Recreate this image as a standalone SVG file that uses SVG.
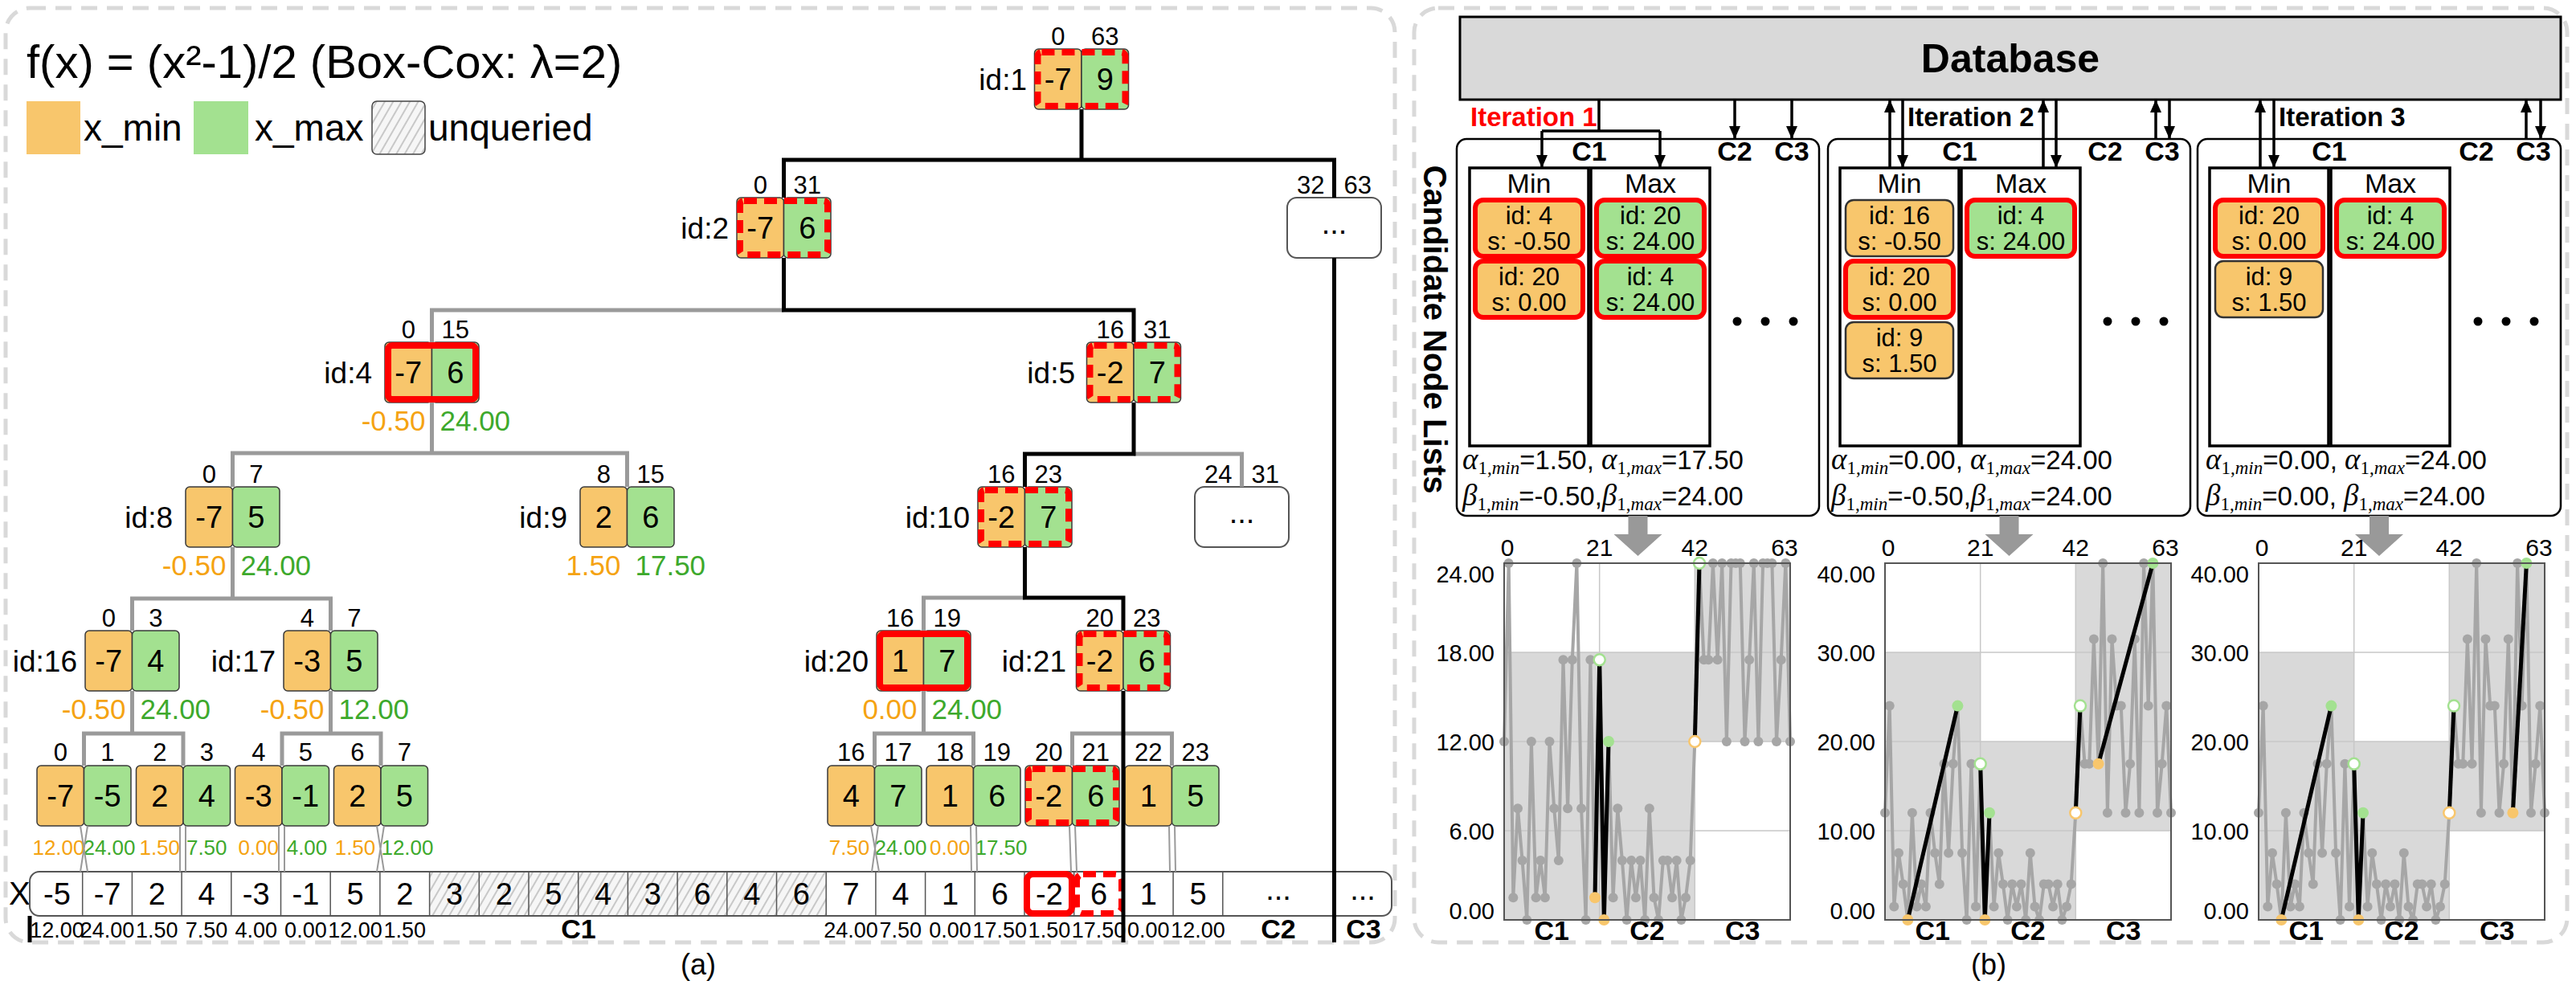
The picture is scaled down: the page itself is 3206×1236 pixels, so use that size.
<svg xmlns="http://www.w3.org/2000/svg" width="3206" height="1236" viewBox="0 0 3206 1236">
<defs>
<style>
text{font-family:"Liberation Sans",Arial,Helvetica,sans-serif;fill:#000}
.panel{fill:none;stroke:#d9d9d9;stroke-width:5;stroke-dasharray:20 12}
.co{fill:#F8C66C;stroke:#3a3a3a;stroke-width:1.5}
.cg{fill:#A3E190;stroke:#3a3a3a;stroke-width:1.5}
.rd{fill:none;stroke:#FF0000;stroke-width:8;stroke-dasharray:16 9}
.rs{fill:none;stroke:#FF0000;stroke-width:8}
.v{font-size:38px;text-anchor:middle}
.r{font-size:31px;text-anchor:middle}
.id{font-size:37px;text-anchor:end}
.so{font-size:35px;text-anchor:end;fill:#F5A312}
.sg{font-size:35px;fill:#3DA92C}
.lo{font-size:26px;text-anchor:middle;fill:#F5A312}
.lg{font-size:26px;text-anchor:middle;fill:#3DA92C}
.bk{stroke:#000;stroke-width:5;fill:none}
.gy{stroke:#9a9a9a;stroke-width:5;fill:none}
.thin{stroke:#9a9a9a;stroke-width:2;fill:none}
.ell{fill:#fff;stroke:#555;stroke-width:2}
.al{font-size:27px;text-anchor:middle}
.cb{font-size:34px;font-weight:bold;text-anchor:middle}
.box{fill:#fff;stroke:#000;stroke-width:2.5}
.col{fill:#fff;stroke:#000;stroke-width:3.5}
.hd{font-size:34px;text-anchor:middle}
.kt{font-size:31px;text-anchor:middle}
.ko{fill:#F8C66C;stroke:#333;stroke-width:2.5}
.kg{fill:#A3E190;stroke:#333;stroke-width:2.5}
.kr{stroke:#FF0000;stroke-width:6}
.it{font-size:33px;font-weight:bold}
.ar{stroke:#000;stroke-width:3.5;fill:none}
.m{font-size:33px}
.gk{font-family:"Liberation Serif","DejaVu Serif",serif;font-style:italic;font-size:37px}
.sb{font-family:"Liberation Serif","DejaVu Serif",serif;font-size:23px}
.sbi{font-family:"Liberation Serif","DejaVu Serif",serif;font-style:italic;font-size:23px}
.grid{stroke:#c8c8c8;stroke-width:1.5;fill:none}
.sh{fill:#d9d9d9}
.frame{fill:none;stroke:#555;stroke-width:2}
.tk{font-size:30px;text-anchor:middle}
.yl{font-size:29px;text-anchor:end}
.hl{stroke:#000;stroke-width:5;fill:none}
.dO{fill:#F8C66C}
.dG{fill:#A3E190}
.wO{fill:#fff;stroke:#F8C66C;stroke-width:2.5}
.wG{fill:#fff;stroke:#A3E190;stroke-width:2.5}
</style>
<pattern id="hatch" patternUnits="userSpaceOnUse" width="9" height="9" patternTransform="rotate(30)"><rect width="9" height="9" fill="#f6f6f6"/><line x1="1" y1="0" x2="1" y2="9" stroke="#b0b0b0" stroke-width="1.3"/></pattern>
<marker id="arr" viewBox="0 0 16 14" refX="16" refY="7" markerWidth="16" markerHeight="14" markerUnits="userSpaceOnUse" orient="auto"><path d="M0,0 L16,7 L0,14 z" fill="#000"/></marker>
<marker id="gd" markerWidth="14" markerHeight="14" refX="7" refY="7" markerUnits="userSpaceOnUse"><circle cx="7" cy="7" r="6" fill="#A6A6A6"/></marker>
<polyline id="s1" fill="none" stroke="#A6A6A6" stroke-width="4" marker-start="url(#gd)" marker-mid="url(#gd)" marker-end="url(#gd)" points="0,923 5.7,701 11.3,1117.3 17,1006.3 22.6,1071 28.3,1145 33.9,923 39.6,1117.3 45.2,1071 50.9,1117.3 56.5,923 62.2,1006.3 67.8,1071 73.5,821.3 79.1,1006.3 84.8,821.3 90.4,701 96.1,1006.3 101.7,1145 107.4,821.3 113,1117.3 118.7,821.3 124.3,1145 130,923 135.6,1117.3 141.3,1006.3 146.9,1071 152.6,1145 158.2,1071 163.9,1117.3 169.5,1071 175.2,1145 180.8,1006.3 186.5,1117.3 192.1,1145 197.8,1071 203.4,1071 209.1,1117.3 214.7,1071 220.4,1145 226,1117.3 231.7,1071 237.3,923 243,701 248.6,821.3 254.3,821.3 259.9,701 265.6,821.3 271.2,701 276.9,923 282.5,701 288.2,701 293.8,701 299.5,923 305.1,821.3 310.8,701 316.4,923 322.1,701 327.7,701 333.4,701 339,923 344.7,821.3 350.3,701 356,923"/>
<polyline id="s23" fill="none" stroke="#A6A6A6" stroke-width="4" marker-start="url(#gd)" marker-mid="url(#gd)" marker-end="url(#gd)" points="0,1011.8 5.7,878.6 11.3,1128.4 17,1061.8 22.6,1100.6 28.3,1145 33.9,1011.8 39.6,1128.4 45.2,1100.6 50.9,1128.4 56.5,1011.8 62.2,1061.8 67.8,1100.6 73.5,950.8 79.1,1061.8 84.8,950.8 90.4,878.6 96.1,1061.8 101.7,1145 107.4,950.8 113,1128.4 118.7,950.8 124.3,1145 130,1011.8 135.6,1128.4 141.3,1061.8 146.9,1100.6 152.6,1145 158.2,1100.6 163.9,1128.4 169.5,1100.6 175.2,1145 180.8,1061.8 186.5,1128.4 192.1,1145 197.8,1100.6 203.4,1100.6 209.1,1128.4 214.7,1100.6 220.4,1145 226,1128.4 231.7,1100.6 237.3,1011.8 243,878.6 248.6,950.8 254.3,950.8 259.9,795.4 265.6,950.8 271.2,701 276.9,1011.8 282.5,795.4 288.2,878.6 293.8,878.6 299.5,1011.8 305.1,950.8 310.8,795.4 316.4,1011.8 322.1,701 327.7,878.6 333.4,701 339,1011.8 344.7,950.8 350.3,878.6 356,1011.8"/>
</defs>
<rect width="3206" height="1236" fill="#fff"/>

<!-- Panel (a) -->
<rect class="panel" x="7" y="10" width="1729" height="1163" rx="30"/>
<text x="869" y="1213" font-size="36" text-anchor="middle">(a)</text>
<text x="33" y="97" font-size="58">f(x) = (x²-1)/2 (Box-Cox: λ=2)</text>
<g id="legend">
<rect x="33" y="126" width="67" height="66" fill="#F8C66C"/>
<text x="104" y="175" font-size="46">x_min</text>
<rect x="241" y="126" width="68" height="66" fill="#A3E190"/>
<text x="317" y="175" font-size="46">x_max</text>
<rect x="463" y="126" width="66" height="66" rx="6" fill="url(#hatch)" stroke="#444" stroke-width="1.5"/>
<text x="533" y="175" font-size="46">unqueried</text>
</g>

<g id="array">
<text x="11" y="1126" font-size="40">X</text>
<rect x="37" y="1085" width="1695" height="55" rx="12" fill="#fff" stroke="#555" stroke-width="2"/>
<rect x="534.6" y="1086" width="493.6" height="53" fill="url(#hatch)"/>
<path d="M102.7,1085V1140M164.4,1085V1140M226.1,1085V1140M287.8,1085V1140M349.5,1085V1140M411.2,1085V1140M472.9,1085V1140M534.6,1085V1140M596.3,1085V1140M658,1085V1140M719.7,1085V1140M781.4,1085V1140M843.1,1085V1140M904.8,1085V1140M966.5,1085V1140M1028.2,1085V1140M1089.9,1085V1140M1151.6,1085V1140M1213.3,1085V1140M1275,1085V1140M1336.7,1085V1140M1398.4,1085V1140M1460.1,1085V1140M1521.8,1085V1140M1660,1085V1140" stroke="#555" stroke-width="1.5"/>
<g class="v">
<text x="71" y="1126">-5</text><text x="133.6" y="1126">-7</text><text x="195.3" y="1126">2</text><text x="257" y="1126">4</text><text x="318.7" y="1126">-3</text><text x="380.4" y="1126">-1</text><text x="442.1" y="1126">5</text><text x="503.8" y="1126">2</text>
<text x="565.5" y="1126">3</text><text x="627.2" y="1126">2</text><text x="688.9" y="1126">5</text><text x="750.6" y="1126">4</text><text x="812.3" y="1126">3</text><text x="874" y="1126">6</text><text x="935.7" y="1126">4</text><text x="997.4" y="1126">6</text>
<text x="1059.1" y="1126">7</text><text x="1120.8" y="1126">4</text><text x="1182.5" y="1126">1</text><text x="1244.2" y="1126">6</text><text x="1305.9" y="1126">-2</text><text x="1367.6" y="1126">6</text><text x="1429.3" y="1126">1</text><text x="1491" y="1126">5</text>
<text x="1591" y="1120">...</text><text x="1696" y="1120">...</text>
</g>
<rect class="rs" x="1278" y="1088" width="56" height="49" rx="8" stroke-width="7"/>
<rect class="rd" x="1340" y="1088" width="56" height="49" rx="8" stroke-width="7" stroke-dasharray="12 7"/>
<g class="al">
<text x="71" y="1167">12.00</text><text x="133.6" y="1167">24.00</text><text x="195.3" y="1167">1.50</text><text x="257" y="1167">7.50</text><text x="318.7" y="1167">4.00</text><text x="380.4" y="1167">0.00</text><text x="442.1" y="1167">12.00</text><text x="503.8" y="1167">1.50</text>
<text x="1059.1" y="1167">24.00</text><text x="1120.8" y="1167">7.50</text><text x="1182.5" y="1167">0.00</text><text x="1244.2" y="1167">17.50</text><text x="1305.9" y="1167">1.50</text><text x="1367.6" y="1167">17.50</text><text x="1429.3" y="1167">0.00</text><text x="1491" y="1167">12.00</text>
</g>
<text class="cb" x="720" y="1168">C1</text>
<text class="cb" x="1591" y="1168">C2</text>
<text class="cb" x="1697" y="1168">C3</text>
</g>

<!-- tree nodes -->
<g id="node-1">
<rect class="co" x="1287.5" y="61" width="58.5" height="75" rx="5"/><rect class="cg" x="1346" y="61" width="58.5" height="75" rx="5"/>
<text class="v" x="1316.75" y="112">-7</text><text class="v" x="1375.25" y="112">9</text>
<text class="r" x="1316.75" y="56">0</text><text class="r" x="1375.25" y="56">63</text>
<text class="id" x="1278" y="112">id:1</text>
<rect class="rd" x="1291.5" y="65" width="109" height="67" rx="5"/>
</g>
<g id="node-2">
<rect class="co" x="917" y="246" width="58.5" height="75" rx="5"/><rect class="cg" x="975.5" y="246" width="58.5" height="75" rx="5"/>
<text class="v" x="946.25" y="297">-7</text><text class="v" x="1004.75" y="297">6</text>
<text class="r" x="946.25" y="241">0</text><text class="r" x="1004.75" y="241">31</text>
<text class="id" x="907" y="297">id:2</text>
<rect class="rd" x="921" y="250" width="109" height="67" rx="5"/>
</g>
<g id="node-32-63">
<rect class="ell" x="1602" y="246" width="117" height="75" rx="12"/>
<text class="v" x="1660.5" y="291">...</text>
<text class="r" x="1631.25" y="241">32</text><text class="r" x="1689.75" y="241">63</text>
</g>
<g id="node-4">
<rect class="co" x="479" y="426" width="58.5" height="75" rx="5"/><rect class="cg" x="537.5" y="426" width="58.5" height="75" rx="5"/>
<text class="v" x="508.25" y="477">-7</text><text class="v" x="566.75" y="477">6</text>
<text class="r" x="508.25" y="421">0</text><text class="r" x="566.75" y="421">15</text>
<text class="id" x="463" y="477">id:4</text>
<rect class="rs" x="483" y="430" width="109" height="67" rx="5"/>
<text class="so" x="529.5" y="536">-0.50</text><text class="sg" x="547.5" y="536">24.00</text>
</g>
<g id="node-5">
<rect class="co" x="1352.5" y="426" width="58.5" height="75" rx="5"/><rect class="cg" x="1411" y="426" width="58.5" height="75" rx="5"/>
<text class="v" x="1381.75" y="477">-2</text><text class="v" x="1440.25" y="477">7</text>
<text class="r" x="1381.75" y="421">16</text><text class="r" x="1440.25" y="421">31</text>
<text class="id" x="1338" y="477">id:5</text>
<rect class="rd" x="1356.5" y="430" width="109" height="67" rx="5"/>
</g>
<g id="node-8">
<rect class="co" x="231" y="606" width="58.5" height="75" rx="5"/><rect class="cg" x="289.5" y="606" width="58.5" height="75" rx="5"/>
<text class="v" x="260.25" y="657">-7</text><text class="v" x="318.75" y="657">5</text>
<text class="r" x="260.25" y="601">0</text><text class="r" x="318.75" y="601">7</text>
<text class="id" x="215" y="657">id:8</text>
<text class="so" x="281.5" y="716">-0.50</text><text class="sg" x="299.5" y="716">24.00</text>
</g>
<g id="node-9">
<rect class="co" x="722" y="606" width="58.5" height="75" rx="5"/><rect class="cg" x="780.5" y="606" width="58.5" height="75" rx="5"/>
<text class="v" x="751.25" y="657">2</text><text class="v" x="809.75" y="657">6</text>
<text class="r" x="751.25" y="601">8</text><text class="r" x="809.75" y="601">15</text>
<text class="id" x="706" y="657">id:9</text>
<text class="so" x="772.5" y="716">1.50</text><text class="sg" x="790.5" y="716">17.50</text>
</g>
<g id="node-10">
<rect class="co" x="1217" y="606" width="58.5" height="75" rx="5"/><rect class="cg" x="1275.5" y="606" width="58.5" height="75" rx="5"/>
<text class="v" x="1246.25" y="657">-2</text><text class="v" x="1304.75" y="657">7</text>
<text class="r" x="1246.25" y="601">16</text><text class="r" x="1304.75" y="601">23</text>
<text class="id" x="1207" y="657">id:10</text>
<rect class="rd" x="1221" y="610" width="109" height="67" rx="5"/>
</g>
<g id="node-24-31">
<rect class="ell" x="1487" y="606" width="117" height="75" rx="12"/>
<text class="v" x="1545.5" y="651">...</text>
<text class="r" x="1516.25" y="601">24</text><text class="r" x="1574.75" y="601">31</text>
</g>
<g id="node-16">
<rect class="co" x="106" y="785" width="58.5" height="75" rx="5"/><rect class="cg" x="164.5" y="785" width="58.5" height="75" rx="5"/>
<text class="v" x="135.25" y="836">-7</text><text class="v" x="193.75" y="836">4</text>
<text class="r" x="135.25" y="780">0</text><text class="r" x="193.75" y="780">3</text>
<text class="id" x="96" y="836">id:16</text>
<text class="so" x="156.5" y="895">-0.50</text><text class="sg" x="174.5" y="895">24.00</text>
</g>
<g id="node-17">
<rect class="co" x="353" y="785" width="58.5" height="75" rx="5"/><rect class="cg" x="411.5" y="785" width="58.5" height="75" rx="5"/>
<text class="v" x="382.25" y="836">-3</text><text class="v" x="440.75" y="836">5</text>
<text class="r" x="382.25" y="780">4</text><text class="r" x="440.75" y="780">7</text>
<text class="id" x="343" y="836">id:17</text>
<text class="so" x="403.5" y="895">-0.50</text><text class="sg" x="421.5" y="895">12.00</text>
</g>
<g id="node-20">
<rect class="co" x="1091" y="785" width="58.5" height="75" rx="5"/><rect class="cg" x="1149.5" y="785" width="58.5" height="75" rx="5"/>
<text class="v" x="1120.25" y="836">1</text><text class="v" x="1178.75" y="836">7</text>
<text class="r" x="1120.25" y="780">16</text><text class="r" x="1178.75" y="780">19</text>
<text class="id" x="1081" y="836">id:20</text>
<rect class="rs" x="1095" y="789" width="109" height="67" rx="5"/>
<text class="so" x="1141.5" y="895">0.00</text><text class="sg" x="1159.5" y="895">24.00</text>
</g>
<g id="node-21">
<rect class="co" x="1339.5" y="785" width="58.5" height="75" rx="5"/><rect class="cg" x="1398" y="785" width="58.5" height="75" rx="5"/>
<text class="v" x="1368.75" y="836">-2</text><text class="v" x="1427.25" y="836">6</text>
<text class="r" x="1368.75" y="780">20</text><text class="r" x="1427.25" y="780">23</text>
<text class="id" x="1327" y="836">id:21</text>
<rect class="rd" x="1343.5" y="789" width="109" height="67" rx="5"/>
</g>

<g id="leaves-0-7">
<rect class="co" x="46" y="953" width="58.5" height="75" rx="5"/><rect class="cg" x="104.5" y="953" width="58.5" height="75" rx="5"/>
<rect class="co" x="169.5" y="953" width="58.5" height="75" rx="5"/><rect class="cg" x="228" y="953" width="58.5" height="75" rx="5"/>
<rect class="co" x="292.5" y="953" width="58.5" height="75" rx="5"/><rect class="cg" x="351" y="953" width="58.5" height="75" rx="5"/>
<rect class="co" x="415.5" y="953" width="58.5" height="75" rx="5"/><rect class="cg" x="474" y="953" width="58.5" height="75" rx="5"/>
<g class="v"><text x="75.25" y="1004">-7</text><text x="133.75" y="1004">-5</text><text x="198.75" y="1004">2</text><text x="257.25" y="1004">4</text><text x="321.75" y="1004">-3</text><text x="380.25" y="1004">-1</text><text x="444.75" y="1004">2</text><text x="503.25" y="1004">5</text></g>
<g class="r"><text x="75.25" y="947">0</text><text x="133.75" y="947">1</text><text x="198.75" y="947">2</text><text x="257.25" y="947">3</text><text x="321.75" y="947">4</text><text x="380.25" y="947">5</text><text x="444.75" y="947">6</text><text x="503.25" y="947">7</text></g>
<text class="lo" x="73" y="1064">12.00</text><text class="lg" x="136" y="1064">24.00</text><text class="lo" x="198.75" y="1064">1.50</text><text class="lg" x="257.25" y="1064">7.50</text><text class="lo" x="321.75" y="1064">0.00</text><text class="lg" x="382" y="1064">4.00</text><text class="lo" x="442" y="1064">1.50</text><text class="lg" x="507" y="1064">12.00</text>
</g>
<g id="leaves-16-23">
<rect class="co" x="1030" y="953" width="58.5" height="75" rx="5"/><rect class="cg" x="1088.5" y="953" width="58.5" height="75" rx="5"/>
<rect class="co" x="1153" y="953" width="58.5" height="75" rx="5"/><rect class="cg" x="1211.5" y="953" width="58.5" height="75" rx="5"/>
<rect class="co" x="1276" y="953" width="58.5" height="75" rx="5"/><rect class="cg" x="1334.5" y="953" width="58.5" height="75" rx="5"/>
<rect class="co" x="1400" y="953" width="58.5" height="75" rx="5"/><rect class="cg" x="1458.5" y="953" width="58.5" height="75" rx="5"/>
<rect class="rd" x="1280" y="957" width="109" height="67" rx="5"/>
<g class="v"><text x="1059.25" y="1004">4</text><text x="1117.75" y="1004">7</text><text x="1182.25" y="1004">1</text><text x="1240.75" y="1004">6</text><text x="1305.25" y="1004">-2</text><text x="1363.75" y="1004">6</text><text x="1429.25" y="1004">1</text><text x="1487.75" y="1004">5</text></g>
<g class="r"><text x="1059.25" y="947">16</text><text x="1117.75" y="947">17</text><text x="1182.25" y="947">18</text><text x="1240.75" y="947">19</text><text x="1305.25" y="947">20</text><text x="1363.75" y="947">21</text><text x="1429.25" y="947">22</text><text x="1487.75" y="947">23</text></g>
<text class="lo" x="1057" y="1064">7.50</text><text class="lg" x="1121" y="1064">24.00</text><text class="lo" x="1182.25" y="1064">0.00</text><text class="lg" x="1246" y="1064">17.50</text>
</g>

<g id="connectors-a">
<path class="gy" d="M537.5,426V386H975.5"/>
<path class="gy" d="M289.5,606V564H780.5V606M537.5,501V564"/>
<path class="gy" d="M164.5,785V745H411.5V785M289.5,681V745"/>
<path class="gy" d="M104.5,953V913H228V953M164.5,860V913"/>
<path class="gy" d="M351,953V913H474V953M411.5,860V913"/>
<path class="gy" d="M1411,565H1545.5V606"/>
<path class="gy" d="M1149.5,785V744H1275.5"/>
<path class="gy" d="M1088.5,953V913H1211.5V953M1149.5,860V913"/>
<path class="gy" d="M1334.5,953V913H1458.5V953"/>
<path class="thin" d="M100,1028L109,1085M109,1028L100,1085M224,1028L224,1085M231,1028L231,1085M347,1028L347,1085M354,1028L354,1085M469,1028L478,1085M478,1028L469,1085"/>
<path class="thin" d="M1084,1028L1094,1085M1093,1028L1085,1085M1208,1028L1209,1085M1215,1028L1216,1085M1331,1028L1333,1085M1338,1028L1340,1085M1455,1028L1456,1085M1462,1028L1463,1085"/>
<path class="bk" d="M1346,136V199M975.5,246V199H1660.5V246M1660.5,321V1173"/>
<path class="bk" d="M975.5,321V386H1411V426"/>
<path class="bk" d="M1411,501V565H1275.5V606"/>
<path class="bk" d="M1275.5,681V744H1398V785M1398,860V1173"/>
<path class="bk" d="M37,1140V1173"/>
</g>

<!-- Panel (b) -->
<rect class="panel" x="1760" y="10" width="1435" height="1163" rx="30"/>
<text x="2475" y="1213" font-size="36" text-anchor="middle">(b)</text>
<g id="database">
<rect x="1817" y="21" width="1370" height="103" fill="#D9D9D9" stroke="#000" stroke-width="3"/>
<text x="2502" y="90" font-size="50" font-weight="bold" text-anchor="middle">Database</text>
</g>
<text transform="translate(1772,410) rotate(90)" font-size="40" font-weight="bold" text-anchor="middle">Candidate Node Lists</text>

<g id="iteration-1">
<rect class="box" x="1813" y="173" width="451" height="469" rx="12"/>
<text class="it" x="1830" y="157" style="fill:#FF0000">Iteration 1</text>
<text class="cb" x="1978" y="200">C1</text><text class="cb" x="2159" y="200">C2</text><text class="cb" x="2230" y="200">C3</text>
<rect class="col" x="1829" y="209" width="148" height="346"/><rect class="col" x="1980" y="209" width="148" height="346"/>
<text class="hd" x="1903" y="240">Min</text><text class="hd" x="2054" y="240">Max</text>
<rect class="ko kr" x="1836" y="249" width="134" height="70" rx="10"/><text class="kt" x="1903" y="279">id: 4</text><text class="kt" x="1903" y="311">s: -0.50</text>
<rect class="ko kr" x="1836" y="325" width="134" height="70" rx="10"/><text class="kt" x="1903" y="355">id: 20</text><text class="kt" x="1903" y="387">s: 0.00</text>
<rect class="kg kr" x="1987" y="249" width="134" height="70" rx="10"/><text class="kt" x="2054" y="279">id: 20</text><text class="kt" x="2054" y="311">s: 24.00</text>
<rect class="kg kr" x="1987" y="325" width="134" height="70" rx="10"/><text class="kt" x="2054" y="355">id: 4</text><text class="kt" x="2054" y="387">s: 24.00</text>
<circle cx="2162" cy="400" r="5.5"/><circle cx="2197" cy="400" r="5.5"/><circle cx="2232" cy="400" r="5.5"/>
<text class="m" x="1820" y="584"><tspan class="gk">α</tspan><tspan class="sb" dy="6">1,</tspan><tspan class="sbi">min</tspan><tspan dy="-6">=1.50, </tspan><tspan class="gk">α</tspan><tspan class="sb" dy="6">1,</tspan><tspan class="sbi">max</tspan><tspan dy="-6">=17.50</tspan></text>
<text class="m" x="1820" y="629"><tspan class="gk">β</tspan><tspan class="sb" dy="6">1,</tspan><tspan class="sbi">min</tspan><tspan dy="-6">=-0.50,</tspan><tspan class="gk">β</tspan><tspan class="sb" dy="6">1,</tspan><tspan class="sbi">max</tspan><tspan dy="-6">=24.00</tspan></text>
</g>

<g id="iteration-2">
<rect class="box" x="2275" y="173" width="451" height="469" rx="12"/>
<text class="it" x="2374" y="157">Iteration 2</text>
<text class="cb" x="2439" y="200">C1</text><text class="cb" x="2620" y="200">C2</text><text class="cb" x="2691" y="200">C3</text>
<rect class="col" x="2290" y="209" width="148" height="346"/><rect class="col" x="2441" y="209" width="148" height="346"/>
<text class="hd" x="2364" y="240">Min</text><text class="hd" x="2515" y="240">Max</text>
<rect class="ko" x="2297" y="249" width="134" height="70" rx="10"/><text class="kt" x="2364" y="279">id: 16</text><text class="kt" x="2364" y="311">s: -0.50</text>
<rect class="ko kr" x="2297" y="325" width="134" height="70" rx="10"/><text class="kt" x="2364" y="355">id: 20</text><text class="kt" x="2364" y="387">s: 0.00</text>
<rect class="ko" x="2297" y="401" width="134" height="70" rx="10"/><text class="kt" x="2364" y="431">id: 9</text><text class="kt" x="2364" y="463">s: 1.50</text>
<rect class="kg kr" x="2448" y="249" width="134" height="70" rx="10"/><text class="kt" x="2515" y="279">id: 4</text><text class="kt" x="2515" y="311">s: 24.00</text>
<circle cx="2623" cy="400" r="5.5"/><circle cx="2658" cy="400" r="5.5"/><circle cx="2693" cy="400" r="5.5"/>
<text class="m" x="2279" y="584"><tspan class="gk">α</tspan><tspan class="sb" dy="6">1,</tspan><tspan class="sbi">min</tspan><tspan dy="-6">=0.00, </tspan><tspan class="gk">α</tspan><tspan class="sb" dy="6">1,</tspan><tspan class="sbi">max</tspan><tspan dy="-6">=24.00</tspan></text>
<text class="m" x="2279" y="629"><tspan class="gk">β</tspan><tspan class="sb" dy="6">1,</tspan><tspan class="sbi">min</tspan><tspan dy="-6">=-0.50,</tspan><tspan class="gk">β</tspan><tspan class="sb" dy="6">1,</tspan><tspan class="sbi">max</tspan><tspan dy="-6">=24.00</tspan></text>
</g>

<g id="iteration-3">
<rect class="box" x="2735" y="173" width="452" height="469" rx="12"/>
<text class="it" x="2836" y="157">Iteration 3</text>
<text class="cb" x="2899" y="200">C1</text><text class="cb" x="3082" y="200">C2</text><text class="cb" x="3153" y="200">C3</text>
<rect class="col" x="2750" y="209" width="148" height="346"/><rect class="col" x="2901" y="209" width="148" height="346"/>
<text class="hd" x="2824" y="240">Min</text><text class="hd" x="2975" y="240">Max</text>
<rect class="ko kr" x="2757" y="249" width="134" height="70" rx="10"/><text class="kt" x="2824" y="279">id: 20</text><text class="kt" x="2824" y="311">s: 0.00</text>
<rect class="ko" x="2757" y="325" width="134" height="70" rx="10"/><text class="kt" x="2824" y="355">id: 9</text><text class="kt" x="2824" y="387">s: 1.50</text>
<rect class="kg kr" x="2908" y="249" width="134" height="70" rx="10"/><text class="kt" x="2975" y="279">id: 4</text><text class="kt" x="2975" y="311">s: 24.00</text>
<circle cx="3084" cy="400" r="5.5"/><circle cx="3119" cy="400" r="5.5"/><circle cx="3154" cy="400" r="5.5"/>
<text class="m" x="2745" y="584"><tspan class="gk">α</tspan><tspan class="sb" dy="6">1,</tspan><tspan class="sbi">min</tspan><tspan dy="-6">=0.00, </tspan><tspan class="gk">α</tspan><tspan class="sb" dy="6">1,</tspan><tspan class="sbi">max</tspan><tspan dy="-6">=24.00</tspan></text>
<text class="m" x="2745" y="629"><tspan class="gk">β</tspan><tspan class="sb" dy="6">1,</tspan><tspan class="sbi">min</tspan><tspan dy="-6">=0.00, </tspan><tspan class="gk">β</tspan><tspan class="sb" dy="6">1,</tspan><tspan class="sbi">max</tspan><tspan dy="-6">=24.00</tspan></text>
</g>

<g id="connectors-b">
<path class="ar" d="M1990,124V163M1919,163H2066"/>
<path class="ar" d="M1919,163V209" marker-end="url(#arr)"/>
<path class="ar" d="M2066,163V209" marker-end="url(#arr)"/>
<path class="ar" d="M2159,124V173" marker-end="url(#arr)"/>
<path class="ar" d="M2230,124V173" marker-end="url(#arr)"/>
<path class="ar" d="M2352,209V124" marker-end="url(#arr)"/>
<path class="ar" d="M2368,124V209" marker-end="url(#arr)"/>
<path class="ar" d="M2543,209V124" marker-end="url(#arr)"/>
<path class="ar" d="M2559,124V209" marker-end="url(#arr)"/>
<path class="ar" d="M2683,173V124" marker-end="url(#arr)"/>
<path class="ar" d="M2700,124V173" marker-end="url(#arr)"/>
<path class="ar" d="M2813,209V124" marker-end="url(#arr)"/>
<path class="ar" d="M2830,124V209" marker-end="url(#arr)"/>
<path class="ar" d="M3144,173V124" marker-end="url(#arr)"/>
<path class="ar" d="M3162,124V173" marker-end="url(#arr)"/>
<path d="M2026.5,642V665H2008.5L2038.5,692L2068.5,665H2050.5V642Z" fill="#999"/>
<path d="M2488.5,642V665H2470.5L2500.5,692L2530.5,665H2512.5V642Z" fill="#999"/>
<path d="M2949,642V665H2931L2961,692L2991,665H2973V642Z" fill="#999"/>
</g>

<g id="chart-1">
<rect x="1872" y="701" width="356" height="444" fill="#fff"/>
<rect class="sh" x="1872" y="812" width="237.3" height="333"/>
<rect class="sh" x="2109.3" y="701" width="118.7" height="222"/>
<path class="grid" d="M1990.7,701V1145M2109.3,701V1145M1872,812H2228M1872,923H2228M1872,1034H2228"/>
<use href="#s1" x="1872"/>
<polyline class="hl" points="1985,1117.3 1990.7,821.3 1996.3,1145 2002,923"/>
<polyline class="hl" points="2109.3,923 2115,701"/>
<circle class="dO" cx="1985" cy="1117.3" r="7"/><circle class="wG" cx="1990.7" cy="821.3" r="7"/><circle class="dO" cx="1996.3" cy="1145" r="7"/><circle class="dG" cx="2002" cy="923" r="7"/>
<circle class="wO" cx="2109.3" cy="923" r="7"/><circle class="wG" cx="2115" cy="701" r="7"/>
<rect class="frame" x="1872" y="701" width="356" height="444"/>
<text class="tk" x="1876" y="692">0</text><text class="tk" x="1990.7" y="692">21</text><text class="tk" x="2109.3" y="692">42</text><text class="tk" x="2221" y="692">63</text>
<text class="yl" x="1860" y="725">24.00</text><text class="yl" x="1860" y="823">18.00</text><text class="yl" x="1860" y="934">12.00</text><text class="yl" x="1860" y="1045">6.00</text><text class="yl" x="1860" y="1144">0.00</text>
<text class="cb" x="1931.3" y="1170">C1</text><text class="cb" x="2050" y="1170">C2</text><text class="cb" x="2168.7" y="1170">C3</text>
</g>

<g id="chart-2">
<rect x="2346" y="701" width="356" height="444" fill="#fff"/>
<rect class="sh" x="2346" y="812" width="118.7" height="333"/>
<rect class="sh" x="2464.7" y="923" width="118.6" height="222"/>
<rect class="sh" x="2583.3" y="701" width="118.7" height="333"/>
<path class="grid" d="M2464.7,701V1145M2583.3,701V1145M2346,812H2702M2346,923H2702M2346,1034H2702"/>
<use href="#s23" x="2346"/>
<polyline class="hl" points="2374.3,1145 2436.4,878.6"/>
<polyline class="hl" points="2464.7,950.8 2470.3,1145 2476,1011.8"/>
<polyline class="hl" points="2583.3,1011.8 2589,878.6"/>
<polyline class="hl" points="2611.6,950.8 2679.4,701"/>
<circle class="dO" cx="2374.3" cy="1145" r="7"/><circle class="dG" cx="2436.4" cy="878.6" r="7"/>
<circle class="wG" cx="2464.7" cy="950.8" r="7"/><circle class="dO" cx="2470.3" cy="1145" r="7"/><circle class="dG" cx="2476" cy="1011.8" r="7"/>
<circle class="wO" cx="2583.3" cy="1011.8" r="7"/><circle class="wG" cx="2589" cy="878.6" r="7"/>
<circle class="dO" cx="2611.6" cy="950.8" r="7"/><circle class="dG" cx="2679.4" cy="701" r="7"/>
<rect class="frame" x="2346" y="701" width="356" height="444"/>
<text class="tk" x="2350" y="692">0</text><text class="tk" x="2464.7" y="692">21</text><text class="tk" x="2583.3" y="692">42</text><text class="tk" x="2695" y="692">63</text>
<text class="yl" x="2334" y="725">40.00</text><text class="yl" x="2334" y="823">30.00</text><text class="yl" x="2334" y="934">20.00</text><text class="yl" x="2334" y="1045">10.00</text><text class="yl" x="2334" y="1144">0.00</text>
<text class="cb" x="2405.3" y="1170">C1</text><text class="cb" x="2524" y="1170">C2</text><text class="cb" x="2642.7" y="1170">C3</text>
</g>

<g id="chart-3">
<rect x="2811" y="701" width="356" height="444" fill="#fff"/>
<rect class="sh" x="2811" y="812" width="118.7" height="333"/>
<rect class="sh" x="2929.7" y="923" width="118.6" height="222"/>
<rect class="sh" x="3048.3" y="701" width="118.7" height="333"/>
<path class="grid" d="M2929.7,701V1145M3048.3,701V1145M2811,812H3167M2811,923H3167M2811,1034H3167"/>
<use href="#s23" x="2811"/>
<polyline class="hl" points="2839.3,1145 2901.4,878.6"/>
<polyline class="hl" points="2929.7,950.8 2935.3,1145 2941,1011.8"/>
<polyline class="hl" points="3048.3,1011.8 3054,878.6"/>
<polyline class="hl" points="3127.4,1011.8 3144.4,701"/>
<circle class="dO" cx="2839.3" cy="1145" r="7"/><circle class="dG" cx="2901.4" cy="878.6" r="7"/>
<circle class="wG" cx="2929.7" cy="950.8" r="7"/><circle class="dO" cx="2935.3" cy="1145" r="7"/><circle class="dG" cx="2941" cy="1011.8" r="7"/>
<circle class="wO" cx="3048.3" cy="1011.8" r="7"/><circle class="wG" cx="3054" cy="878.6" r="7"/>
<circle class="dO" cx="3127.4" cy="1011.8" r="7"/><circle class="dG" cx="3144.4" cy="701" r="7"/>
<rect class="frame" x="2811" y="701" width="356" height="444"/>
<text class="tk" x="2815" y="692">0</text><text class="tk" x="2929.7" y="692">21</text><text class="tk" x="3048.3" y="692">42</text><text class="tk" x="3160" y="692">63</text>
<text class="yl" x="2799" y="725">40.00</text><text class="yl" x="2799" y="823">30.00</text><text class="yl" x="2799" y="934">20.00</text><text class="yl" x="2799" y="1045">10.00</text><text class="yl" x="2799" y="1144">0.00</text>
<text class="cb" x="2870.3" y="1170">C1</text><text class="cb" x="2989" y="1170">C2</text><text class="cb" x="3107.7" y="1170">C3</text>
</g>
</svg>
